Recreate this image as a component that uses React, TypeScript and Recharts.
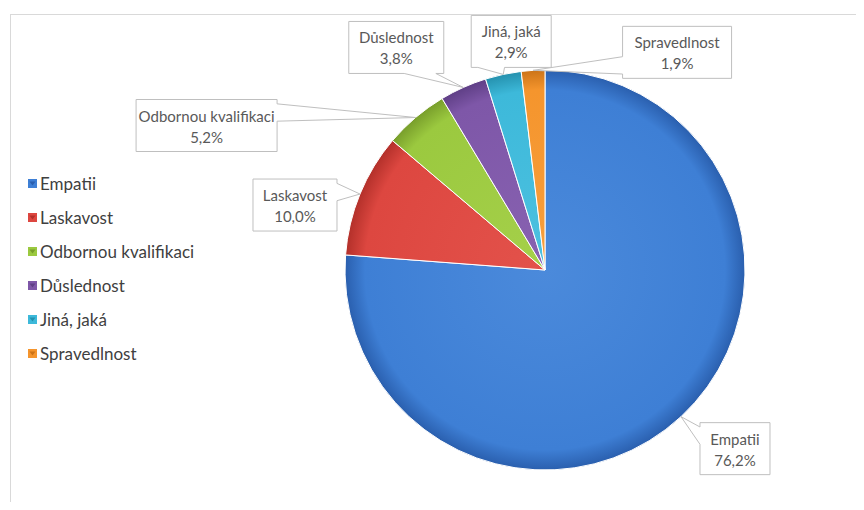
import React from 'react';
import { PieChart, Pie, Cell } from 'recharts';

// chart data
const CATEGORIES = ['Empatii', 'Laskavost', 'Odbornou kvalifikaci', 'Důslednost', 'Jiná, jaká', 'Spravedlnost'];
const VALUES = [76.2, 10.0, 5.2, 3.8, 2.9, 1.9];

// slice colours: light / base / dark (for the bevel-ish gradient)
const LIGHT = ['#4B8ADB', '#E3524B', '#A5D04A', '#8862B1', '#4DC1E0', '#F79F3E'];
const BASE = ['#3E7FD5', '#DD4740', '#9BC93F', '#7E57A8', '#3DB9DA', '#F5952D'];
const DARK = ['#2A5FAE', '#B3302A', '#789E2B', '#5F3F86', '#2591AE', '#CC7418'];

// callout box layout: offset of box centre from the slice tip, and box width
const LABEL_DX = [54, -65, -209, -67, 8, 144];
const LABEL_DY = [32, 11, 8, -40, -33, -18];
const LABEL_W = [70, 84, 141, 95, 80, 109];
const LABEL_H = 52;

const CX = 545;
const CY = 270;
const R = 200;
const FONT = 'Lato, "Open Sans", sans-serif';

const data = CATEGORIES.map((name, i) => ({ name, value: VALUES[i] }));

const fmt = (v: number) => v.toFixed(1).replace('.', ',') + '%';

// rectangle callout with a wedge pointing at (tx, ty)
const calloutPath = (x: number, y: number, w: number, h: number, tx: number, ty: number) => {
  const dx = tx - (x + w / 2);
  const dy = ty - (y + h / 2);
  if (Math.abs(dx) / w > Math.abs(dy) / h) {
    const ya = dy < 0 ? y + h / 12 : y + (7 * h) / 12;
    const yb = dy < 0 ? y + (5 * h) / 12 : y + (11 * h) / 12;
    if (dx < 0) {
      return `M${x},${y}L${x + w},${y}L${x + w},${y + h}L${x},${y + h}L${x},${yb}L${tx},${ty}L${x},${ya}Z`;
    }
    return `M${x},${y}L${x + w},${y}L${x + w},${ya}L${tx},${ty}L${x + w},${yb}L${x + w},${y + h}L${x},${y + h}Z`;
  }
  const xa = dx < 0 ? x + w / 12 : x + (7 * w) / 12;
  const xb = dx < 0 ? x + (5 * w) / 12 : x + (11 * w) / 12;
  if (dy < 0) {
    return `M${x},${y}L${xa},${y}L${tx},${ty}L${xb},${y}L${x + w},${y}L${x + w},${y + h}L${x},${y + h}Z`;
  }
  return `M${x},${y}L${x + w},${y}L${x + w},${y + h}L${xb},${y + h}L${tx},${ty}L${xa},${y + h}L${x},${y + h}Z`;
};

const renderLabel = (props: any) => {
  const { cx, cy, midAngle, outerRadius, index } = props;
  const rad = (-midAngle * Math.PI) / 180;
  const tx = cx + outerRadius * Math.cos(rad);
  const ty = cy + outerRadius * Math.sin(rad);
  const bx = tx + LABEL_DX[index];
  const by = ty + LABEL_DY[index];
  const w = LABEL_W[index];
  const x = bx - w / 2;
  const y = by - LABEL_H / 2;
  return (
    <g key={`lbl-${index}`}>
      <path d={calloutPath(x, y, w, LABEL_H, tx, ty)} fill="#fff" stroke="#BFBFBF" strokeWidth={1} />
      <text x={bx} y={by - 10} textAnchor="middle" dominantBaseline="central" fill="#595959" fontSize={15} fontFamily={FONT}>
        {CATEGORIES[index]}
      </text>
      <text x={bx} y={by + 11} textAnchor="middle" dominantBaseline="central" fill="#595959" fontSize={15} fontFamily={FONT}>
        {fmt(VALUES[index])}
      </text>
    </g>
  );
};

const LegendList = () => (
  <div style={{ fontFamily: FONT, fontSize: 17, color: '#404040' }}>
    {CATEGORIES.map((c, i) => (
      <div key={c} style={{ display: 'flex', alignItems: 'center', height: 34 }}>
        <svg width={9} height={9} style={{ marginRight: 3 }}>
          <rect x={0} y={0} width={9} height={9} fill={BASE[i]} />
          <path d="M1.5,2.5L7.5,2.5L4.5,6.5Z" fill={DARK[i]} />
        </svg>
        <span>{c}</span>
      </div>
    ))}
  </div>
);

export default function App() {
  return (
    <div style={{ position: 'relative', width: 864, height: 510, overflow: 'hidden', margin: -8, background: '#fff' }}>
      <div
        style={{
          position: 'absolute',
          left: 10,
          top: 14,
          width: 900,
          height: 560,
          border: '1px solid #D9D9D9',
        }}
      />
      <div style={{ position: 'absolute', left: 28, top: 166 }}>
        <LegendList />
      </div>
      <div style={{ position: 'absolute', left: 0, top: 0 }}>
        <PieChart width={864} height={510} margin={{ top: 0, right: 0, bottom: 0, left: 0 }}>
          <defs>
            {BASE.map((c, i) => (
              <radialGradient key={i} id={`sl${i}`} cx={CX} cy={CY} r={R} gradientUnits="userSpaceOnUse">
                <stop offset="0%" stopColor={LIGHT[i]} />
                <stop offset="90%" stopColor={c} />
                <stop offset="100%" stopColor={DARK[i]} />
              </radialGradient>
            ))}
          </defs>
          <Pie
            data={data}
            dataKey="value"
            nameKey="name"
            cx={CX}
            cy={CY}
            outerRadius={R}
            startAngle={90}
            endAngle={-270}
            stroke="#ffffff"
            strokeWidth={1}
            label={renderLabel}
            labelLine={false}
            isAnimationActive={false}
          >
            {data.map((d, i) => (
              <Cell key={`cell-${i}`} fill={`url(#sl${i})`} />
            ))}
          </Pie>
        </PieChart>
      </div>
    </div>
  );
}
